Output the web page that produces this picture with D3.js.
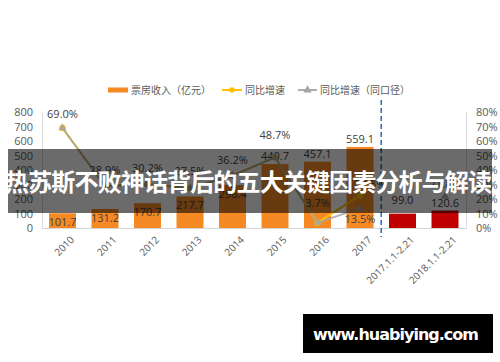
<!DOCTYPE html>
<html>
<head>
<meta charset="utf-8">
<script src="https://cdn.jsdelivr.net/npm/d3@7"></script>
<style>
  body { margin: 0; background: #fff; }
  svg { display: block; font-family: "Noto Sans CJK SC", "Noto Sans", sans-serif; }
</style>
</head>
<body>
<svg id="chart" width="500" height="362"></svg>
<script>
const categories = ["2010", "2011", "2012", "2013", "2014", "2015", "2016", "2017", "2017.1.1-2.21", "2018.1.1-2.21"];
const boxOffice = [101.7, 131.2, 170.7, 217.7, 296.4, 440.7, 457.1, 559.1, 99.0, 120.6];
const growth = [69.0, 28.9, 30.2, 27.5, 36.2, 48.7, 3.7, 22.3, null, null];
const growthSame = [69.0, 28.9, 30.2, 27.5, 36.2, 48.7, 3.7, 13.5, null, 21.8];
const leftTicks = [0, 100, 200, 300, 400, 500, 600, 700, 800];
const rightTicks = [0, 10, 20, 30, 40, 50, 60, 70, 80];
const title = "热苏斯不败神话背后的五大关键因素分析与解读";
const watermark = "www.huabiying.com";

const COLORS = {
  bar: "#F58A24",
  barPeriod: "#C00000",
  yellow: "#FFC000",
  gray: "#A5A5A5",
  text: "#595959",
  label: "#404040",
  axis: "#D9D9D9",
  dash: "#2E75B6"
};

const svg = d3.select("#chart");

// scales
const x = d3.scaleBand()
  .domain(categories)
  .range([41.25, 466.25])
  .paddingInner(0.365)
  .paddingOuter(0.1825);

const y = d3.scaleLinear().domain([0, 800]).range([228, 112]);
const y2 = d3.scaleLinear().domain([0, 80]).range([228, 112]);
const cx = d => x(d) + x.bandwidth() / 2;

// axes
const leftAxis = svg.append("g")
  .attr("transform", "translate(42,0)")
  .call(d3.axisLeft(y).tickValues(leftTicks).tickSize(0).tickPadding(9));
const rightAxis = svg.append("g")
  .attr("transform", "translate(466,0)")
  .call(d3.axisRight(y2).tickValues(rightTicks).tickFormat(d => d + "%").tickSize(0).tickPadding(10));
[leftAxis, rightAxis].forEach(g => {
  g.select("path.domain").attr("stroke", COLORS.axis);
  g.selectAll("text").attr("fill", COLORS.text).style("font-size", "11px")
    .style("font-family", "'Open Sans', 'Noto Sans', sans-serif");
});

const xAxis = svg.append("g")
  .attr("transform", "translate(0,228)")
  .call(d3.axisBottom(x).tickSize(0).tickPadding(6));
xAxis.select("path.domain").attr("stroke", COLORS.axis);
xAxis.selectAll("text")
  .attr("fill", COLORS.text)
  .style("font-size", "10px")
  .style("font-family", "'Open Sans', 'Noto Sans', sans-serif")
  .attr("text-anchor", "end")
  .attr("dy", "0.3em")
  .attr("transform", "translate(6,6) rotate(-45)");

// bars
svg.append("g").selectAll("rect")
  .data(boxOffice)
  .join("rect")
  .attr("x", (d, i) => x(categories[i]))
  .attr("y", d => y(d))
  .attr("width", x.bandwidth())
  .attr("height", d => y(0) - y(d))
  .attr("fill", (d, i) => i < 8 ? COLORS.bar : COLORS.barPeriod);

// bar labels: inside end for the small years, above for the rest
svg.append("g").selectAll("text")
  .data(boxOffice)
  .join("text")
  .attr("x", (d, i) => cx(categories[i]))
  .attr("y", (d, i) => i < 5 ? y(d) + 13 : (i === 8 ? y(d) - 10 : y(d) - 4))
  .attr("text-anchor", "middle")
  .attr("fill", COLORS.label)
  .style("font-size", "11px")
  .style("font-family", "'Open Sans', 'Noto Sans', sans-serif")
  .text(d => d.toFixed(1));

// divider between full years and holiday periods
svg.append("line")
  .attr("x1", (cx(categories[7]) + cx(categories[8])) / 2)
  .attr("x2", (cx(categories[7]) + cx(categories[8])) / 2)
  .attr("y1", 100)
  .attr("y2", 237)
  .attr("stroke", COLORS.dash)
  .attr("stroke-width", 1.6)
  .attr("stroke-dasharray", "5,3");

// lines
const line = (scale) => d3.line()
  .defined(d => d != null)
  .x((d, i) => cx(categories[i]))
  .y(d => scale(d));

svg.append("path")
  .datum(growth)
  .attr("d", line(y2))
  .attr("fill", "none")
  .attr("stroke", COLORS.yellow)
  .attr("stroke-width", 2);

svg.append("g").selectAll("circle")
  .data(growth.map((v, i) => ({ v, i })).filter(d => d.v != null))
  .join("circle")
  .attr("cx", d => cx(categories[d.i]))
  .attr("cy", d => y2(d.v))
  .attr("r", 3.2)
  .attr("fill", COLORS.yellow);

svg.append("path")
  .datum(growthSame)
  .attr("d", line(y2))
  .attr("fill", "none")
  .attr("stroke", COLORS.gray)
  .attr("stroke-opacity", 0.85)
  .attr("stroke-width", 1.8);

const tri = d3.symbol().type(d3.symbolTriangle).size(30);
svg.append("g").selectAll("path")
  .data(growthSame.map((v, i) => ({ v, i })).filter(d => d.v != null))
  .join("path")
  .attr("d", tri)
  .attr("transform", d => `translate(${cx(categories[d.i])},${y2(d.v)})`)
  .attr("fill", COLORS.gray)
  .attr("fill-opacity", 0.85);

// percentage labels (one per point, extra ones where the lines split)
const pctLabels = [];
growthSame.forEach((v, i) => { if (v != null) pctLabels.push({ v, i }); });
pctLabels.push({ v: growth[7], i: 7 });
const labelDy = { 0: -10, 1: -12, 2: -12, 3: -13, 4: -12, 5: -18, 6: -16, 7: 15, 9: -8 };

svg.append("g").selectAll("text")
  .data(pctLabels)
  .join("text")
  .attr("x", d => cx(categories[d.i]) + (d.v === growth[7] && d.i === 7 ? 10 : 0))
  .attr("y", d => y2(d.v) + (d.v === growth[7] && d.i === 7 ? -8 : labelDy[d.i]))
  .attr("text-anchor", "middle")
  .attr("fill", COLORS.label)
  .style("font-size", "11px")
  .style("font-family", "'Open Sans', 'Noto Sans', sans-serif")
  .text(d => d.v.toFixed(1) + "%");

// legend
const legend = svg.append("g").style("font-size", "10px").attr("fill", COLORS.text);
legend.append("rect").attr("x", 108).attr("y", 87.5).attr("width", 20).attr("height", 5).attr("fill", COLORS.bar);
legend.append("text").attr("x", 131).attr("y", 93.5).text("票房收入（亿元）");
legend.append("line").attr("x1", 222).attr("x2", 242).attr("y1", 90).attr("y2", 90)
  .attr("stroke", COLORS.yellow).attr("stroke-width", 2);
legend.append("circle").attr("cx", 232).attr("cy", 90).attr("r", 2.8).attr("fill", COLORS.yellow);
legend.append("text").attr("x", 245).attr("y", 93.5).text("同比增速");
legend.append("line").attr("x1", 298).attr("x2", 317).attr("y1", 90).attr("y2", 90)
  .attr("stroke", COLORS.gray).attr("stroke-width", 1.8);
legend.append("path").attr("d", tri).attr("transform", "translate(307.5,90)").attr("fill", COLORS.gray);
legend.append("text").attr("x", 320).attr("y", 93.5).text("同比增速（同口径）");

// title banner
svg.append("rect")
  .attr("x", 8).attr("y", 149).attr("width", 484).attr("height", 64)
  .attr("fill", "rgba(0,0,0,0.58)");
svg.append("text")
  .attr("x", 248.5).attr("y", 191)
  .attr("text-anchor", "middle")
  .attr("fill", "#fff")
  .style("font-size", "24px")
  .style("font-weight", "bold")
  .attr("textLength", 487)
  .text(title);

// watermark
svg.append("rect")
  .attr("x", 303).attr("y", 314).attr("width", 190).attr("height", 39)
  .attr("fill", "#000");
svg.append("text")
  .attr("x", 313).attr("y", 339.5)
  .attr("fill", "#fff")
  .style("font-size", "16px")
  .style("font-weight", "bold")
  .style("font-family", "'DejaVu Sans', sans-serif")
  .attr("textLength", 166)
  .text(watermark);
</script>
</body>
</html>
